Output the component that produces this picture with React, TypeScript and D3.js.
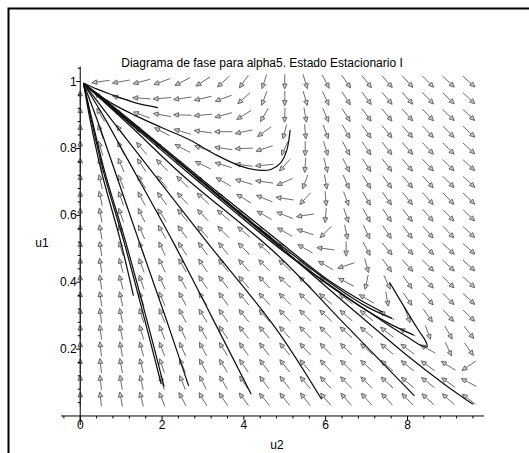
import React from "react";
import * as d3 from "d3";

const W = 529;
const H = 453;

// axis ticks
const xTickLabels = [0, 2, 4, 6, 8];
const yTickLabels = [0.2, 0.4, 0.6, 0.8, 1];
const xMinorTicks = [-0.4, 0.4, 0.8, 1.2, 1.6, 2.4, 2.8, 3.2, 3.6, 4.4, 4.8, 5.2, 5.6, 6.4, 6.8, 7.2, 7.6, 8.4, 8.8, 9.2, 9.6];
const yMinorTicks = [0.04, 0.08, 0.12, 0.16, 0.24, 0.28, 0.32, 0.36, 0.44, 0.48, 0.52, 0.56, 0.64, 0.68, 0.72, 0.76, 0.84, 0.88, 0.92, 0.96, 1.04];

// direction field grid (u2 across, u1 down from the top)
const fieldU2 = [0, 0.5, 1, 1.5, 2, 2.5, 3, 3.5, 4, 4.5, 5, 5.5, 6, 6.5, 7, 7.5, 8, 8.5, 9, 9.5];
const fieldU1 = [1, 0.95, 0.9, 0.85, 0.8, 0.75, 0.7, 0.65, 0.6, 0.55, 0.5, 0.45, 0.4, 0.35, 0.3, 0.25, 0.2, 0.15, 0.1, 0.05];

// arrow directions as seen on screen, degrees (0 = right, 90 = up)
const ang100 = [null, 188, 190, 195, 200, 207, 213, 222, 235, 252, 270, 287, 297, 305, 308, 311, 313, 315, 317, 318];
const ang095 = [90, 135, 165, 176, 185, 188, 193, 200, 222, 250, 270, 286, 295, 303, 307, 310, 312, 314, 316, 317];
const ang090 = [90, 120, 140, 160, 170, 178, 185, 195, 212, 240, 268, 280, 293, 302, 306, 309, 312, 314, 316, 317];
const ang085 = [90, 110, 125, 140, 152, 163, 172, 180, 192, 215, 256, 275, 290, 300, 305, 309, 311, 313, 315, 317];
const ang080 = [90, 106, 117, 130, 142, 152, 162, 172, 182, 198, 245, 270, 287, 298, 304, 308, 311, 313, 315, 317];
const ang075 = [90, 104, 113, 124, 134, 144, 154, 163, 172, 185, 228, 266, 284, 296, 303, 307, 310, 313, 315, 317];
const ang070 = [90, 103, 112, 121, 130, 136, 143, 150, 163, 172, 204, 250, 280, 294, 302, 306, 310, 312, 315, 317];
const ang065 = [90, 102, 110, 118, 126, 132, 137, 142, 148, 158, 171, 227, 275, 290, 300, 305, 309, 312, 314, 316];
const ang060 = [90, 101, 109, 116, 123, 129, 134, 139, 144, 150, 158, 189, 265, 288, 298, 304, 308, 311, 314, 316];
const ang055 = [90, 100, 108, 114, 120, 126, 131, 135, 140, 145, 150, 162, 225, 282, 295, 303, 307, 311, 313, 316];
const ang050 = [90, 99, 106, 110, 115, 122, 126, 128, 134, 137, 140, 150, 172, 270, 298, 310, 314, 315, 317, 318];
const ang045 = [90, 99, 105, 110, 115, 120, 124, 128, 131, 134, 137, 140, 150, 198, 285, 305, 312, 315, 317, 318];
const ang040 = [90, 98, 104, 109, 114, 119, 123, 127, 130, 133, 136, 139, 143, 152, 258, 295, 305, 312, 315, 317];
const ang035 = [90, 98, 103, 108, 113, 118, 122, 126, 129, 132, 135, 137, 139, 142, 150, 280, 305, 312, 315, 317];
const ang030 = [90, 97, 102, 107, 112, 117, 121, 125, 128, 131, 133, 135, 137, 139, 141, 150, 290, 305, 312, 316];
const ang025 = [90, 97, 101, 106, 111, 116, 120, 124, 127, 130, 132, 134, 136, 138, 140, 142, 155, 290, 300, 308];
const ang020 = [90, 96, 100, 105, 110, 114, 118, 122, 125, 128, 130, 132, 134, 136, 138, 140, 143, 151, 295, 305];
const ang015 = [90, 96, 100, 104, 109, 113, 117, 121, 124, 127, 129, 131, 133, 135, 137, 139, 141, 144, 148, 214];
const ang010 = [90, 96, 99, 103, 108, 112, 116, 120, 123, 126, 128, 130, 132, 134, 136, 138, 140, 142, 145, 153];
const ang005 = [90, 96, 100, 104, 111, 118, 120, 123, 126, 130, 128, 128, 130, 131, 132, 133, 134, 138, 138, 142];

const fieldAngles = [ang100, ang095, ang090, ang085, ang080, ang075, ang070, ang065, ang060, ang055,
  ang050, ang045, ang040, ang035, ang030, ang025, ang020, ang015, ang010, ang005];

// solution curves, [u2, u1]
const trajA = [[0.08, 0.995], [0.4, 0.978], [0.74, 0.962], [1.31, 0.938], [1.9, 0.922]];
const trajB = [[0.08, 0.995], [0.7, 0.94], [1.35, 0.898], [2.0, 0.862], [2.67, 0.826], [3.3, 0.782], [3.9, 0.748],
  [4.35, 0.735], [4.66, 0.737], [4.9, 0.757], [5.05, 0.795], [5.13, 0.855]];
const trajLoop = [[7.56, 0.4], [7.9, 0.33], [8.25, 0.26], [8.45, 0.222], [8.48, 0.207], [8.35, 0.21], [8.0, 0.236],
  [7.56, 0.27], [7.07, 0.31], [6.41, 0.365], [5.6, 0.435], [4.78, 0.515], [3.5, 0.645], [2.0, 0.8], [0.9, 0.91],
  [0.3, 0.972], [0.08, 0.995]];
const trajD = [[0.08, 0.995], [0.5, 0.955], [1.5, 0.856], [3.0, 0.705], [4.78, 0.53], [6.0, 0.412], [6.8, 0.35], [7.4, 0.31]];
const trajE = [[0.08, 0.995], [0.5, 0.953], [1.5, 0.852], [3.0, 0.698], [4.78, 0.522], [6.2, 0.39], [7.0, 0.327], [7.62, 0.292]];
const trajF = [[0.08, 0.995], [0.5, 0.95], [1.5, 0.845], [3.0, 0.69], [4.78, 0.51], [6.5, 0.355], [7.5, 0.28], [8.15, 0.242]];
const trajG = [[0.08, 0.995], [1.0, 0.9], [2.4, 0.76], [4.75, 0.52], [6.5, 0.335], [8.0, 0.18], [8.9, 0.095], [9.6, 0.035]];
const trajH = [[0.08, 0.995], [1.2, 0.87], [2.5, 0.72], [4.78, 0.486], [6.5, 0.27], [8.17, 0.06]];
const trajL6 = [[0.08, 0.995], [0.8, 0.88], [1.5, 0.77], [3.1, 0.52], [4.78, 0.262], [5.9, 0.05]];
const trajL5 = [[0.08, 0.995], [0.6, 0.89], [1.1, 0.78], [2.25, 0.525], [3.2, 0.3], [4.18, 0.065]];
const trajL4 = [[0.08, 0.995], [0.4, 0.89], [0.7, 0.785], [1.43, 0.525], [2.1, 0.29], [2.65, 0.09]];
const trajL3 = [[0.08, 0.995], [0.3, 0.88], [0.6, 0.73], [1.1, 0.525], [1.6, 0.3], [2.05, 0.088]];
const trajL2 = [[0.08, 0.995], [0.28, 0.88], [0.57, 0.73], [1.06, 0.525], [1.55, 0.3], [1.98, 0.095]];
const trajL1 = [[0.08, 0.995], [0.25, 0.88], [0.52, 0.73], [0.98, 0.525], [1.3, 0.36]];

const trajectories = [trajA, trajB, trajLoop, trajD, trajE, trajF, trajG, trajH, trajL6, trajL5, trajL4, trajL3, trajL2, trajL1];

const FONT = "'Liberation Sans Narrow', 'Arial Narrow', 'Liberation Sans', Arial, sans-serif";
const ARROW_HALF = 0.44; // in grid cells
const HEAD_LEN = 5;
const HEAD_W = 2.3;

export default function App() {
  const x = d3.scaleLinear().domain([-0.47, 9.87]).range([61, 484]);
  const y = d3.scaleLinear().domain([-0.027, 1.045]).range([425, 66.5]);
  const cellW = x(0.5) - x(0);
  const cellH = y(0) - y(0.05);

  const curve = d3
    .line<number[]>()
    .x((d) => x(d[0]))
    .y((d) => y(d[1]))
    .curve(d3.curveCatmullRom.alpha(0.5));

  // build arrows of the direction field
  const arrows: { stem: string; head: string }[] = [];
  fieldAngles.forEach((row, i) => {
    row.forEach((a, j) => {
      if (a === null) return;
      const cx = x(fieldU2[j]);
      const cy = y(fieldU1[i]);
      const r = (a * Math.PI) / 180;
      const gx = Math.cos(r) / cellW;
      const gy = Math.sin(r) / cellH;
      const n = Math.hypot(gx, gy);
      const vx = (gx / n) * ARROW_HALF * cellW;
      const vy = -(gy / n) * ARROW_HALF * cellH;
      const half = Math.hypot(vx, vy);
      const ux = vx / half;
      const uy = vy / half;
      const tip = [cx + vx, cy + vy];
      const tail = [cx - vx, cy - vy];
      const hb = [tip[0] - ux * HEAD_LEN, tip[1] - uy * HEAD_LEN];
      const p1 = [hb[0] - uy * HEAD_W, hb[1] + ux * HEAD_W];
      const p2 = [hb[0] + uy * HEAD_W, hb[1] - ux * HEAD_W];
      arrows.push({
        stem: `M${tail[0]},${tail[1]}L${hb[0]},${hb[1]}`,
        head: `M${tip[0]},${tip[1]}L${p1[0]},${p1[1]}L${p2[0]},${p2[1]}Z`,
      });
    });
  });

  const x0 = x(0);
  const y0 = y(0);

  return (
    <svg
      width={W}
      height={H}
      style={{ position: "absolute", left: 0, top: 0, background: "#fff" }}
      fontFamily={FONT}
    >
      <rect x={0} y={0} width={W} height={H} fill="#fff" />
      {/* frame */}
      <path d={`M8.5,${H}V8.5H${W}`} fill="none" stroke="#000" strokeWidth={2} />

      <text x={262} y={67} fontSize={12} textAnchor="middle" fill="#000">
        Diagrama de fase para alpha5. Estado Estacionario I
      </text>

      {/* direction field */}
      <g stroke="#5a5a5a" strokeWidth={0.9} fill="none">
        {arrows.map((a, i) => (
          <g key={i}>
            <path d={a.stem} />
            <path d={a.head} fill="#c8c8c8" strokeLinejoin="round" />
          </g>
        ))}
      </g>

      {/* axes */}
      <g stroke="#000" strokeWidth={1}>
        <line x1={x(-0.47)} x2={x(9.87)} y1={y0} y2={y0} />
        <line x1={x0} x2={x0} y1={y(-0.027)} y2={y(1.045)} />
        {xTickLabels.map((t) => (
          <line key={"xt" + t} x1={x(t)} x2={x(t)} y1={y0} y2={y0 + 4} />
        ))}
        {xMinorTicks.map((t) => (
          <line key={"xm" + t} x1={x(t)} x2={x(t)} y1={y0} y2={y0 + 2.5} />
        ))}
        {yTickLabels.map((t) => (
          <line key={"yt" + t} x1={x0 - 4} x2={x0} y1={y(t)} y2={y(t)} />
        ))}
        {yMinorTicks.map((t) => (
          <line key={"ym" + t} x1={x0 - 2.5} x2={x0} y1={y(t)} y2={y(t)} />
        ))}
      </g>
      <g fontSize={12} fill="#000">
        {xTickLabels.map((t) => (
          <text key={"xl" + t} x={x(t)} y={y0 + 13.3} textAnchor="middle">
            {t}
          </text>
        ))}
        {yTickLabels.map((t) => (
          <text key={"yl" + t} x={x0 - 3.5} y={y(t) + 4} textAnchor="end">
            {t}
          </text>
        ))}
        <text x={42} y={247} textAnchor="middle">u1</text>
        <text x={277} y={449} textAnchor="middle">u2</text>
      </g>

      {/* solution curves */}
      <g fill="none" stroke="#111" strokeWidth={1.25}>
        {trajectories.map((t, i) => (
          <path key={i} d={curve(t) || ""} />
        ))}
      </g>
    </svg>
  );
}
